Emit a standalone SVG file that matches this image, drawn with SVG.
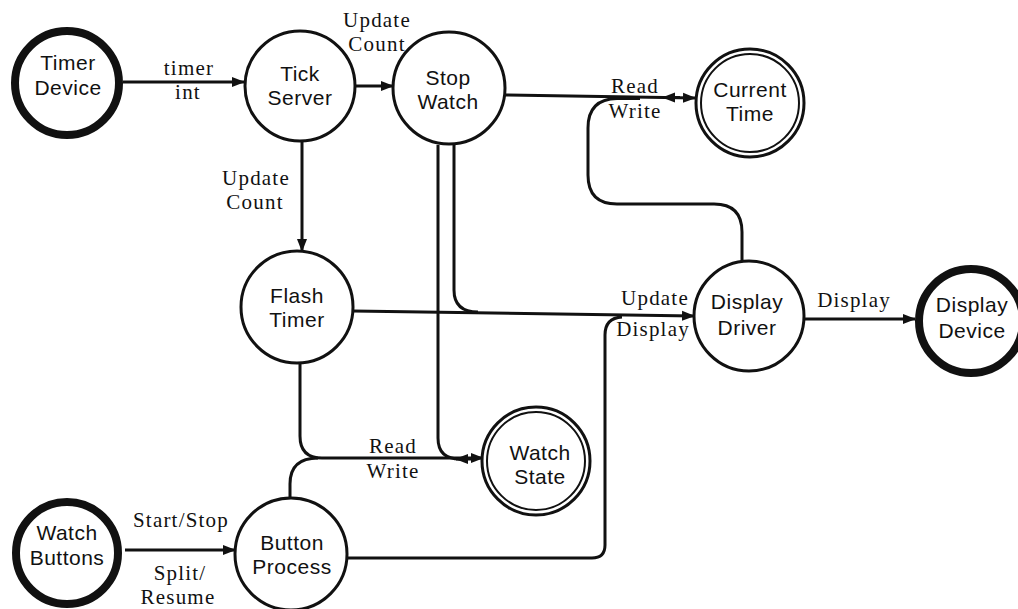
<svg xmlns="http://www.w3.org/2000/svg" width="1018" height="609" viewBox="0 0 1018 609">
  <style>
    .node { fill: #fff; stroke: #111; stroke-width: 3; }
    .term { fill: #fff; stroke: #111; stroke-width: 8; }
    .store-o { fill: #fff; stroke: #111; stroke-width: 3; }
    .store-i { fill: none; stroke: #111; stroke-width: 2; }
    .ntext { font-family: "Liberation Sans", Arial, sans-serif; font-size: 21px; fill: #111; text-anchor: middle; letter-spacing: 0.5px; }
    .ltext { font-family: "Liberation Serif", "Times New Roman", serif; font-size: 21px; fill: #111; text-anchor: middle; letter-spacing: 1.2px; }
    .flow { fill: none; stroke: #111; stroke-width: 3; }
    .arr { marker-end: url(#head); }
  </style>
  <defs>
    <marker id="head" markerUnits="userSpaceOnUse" markerWidth="14" markerHeight="12" viewBox="0 0 14 12" refX="12" refY="6" orient="auto">
      <path d="M0,1 L13,6 L0,11 Z" fill="#111"/>
    </marker>
  </defs>

  <rect width="1018" height="609" fill="#fff"/>

  <!-- data flows -->
  <g id="connectors">
    <path class="flow arr" d="M123,82 H244"/>
    <path class="flow arr" d="M356,86 H393"/>
    <path class="flow arr" d="M302,141 V251"/>
    <!-- Stop Watch / Display Driver read-write on Current Time -->
    <path class="flow arr" d="M505,95 L695,98"/>
    <path class="flow arr" d="M680,97.5 H663"/>
    <path class="flow" d="M742,261 V232 Q742,204 714,204 H617 Q588,204 588,175 V128 Q588,99 617,98.5 H640"/>
    <!-- Update Display -->
    <path class="flow arr" d="M353,311 L694,316"/>
    <path class="flow" d="M454,145 V290 Q454,312 478,312"/>
    <path class="flow" d="M347,558 H592 Q605,558 605,545 V335 Q605,318 622,317"/>
    <!-- read-write on Watch State -->
    <path class="flow" d="M438,145 V438 Q438,459 460,459"/>
    <path class="flow arr" d="M300,363 V436 Q300,458 322,458 H483"/>
    <path class="flow arr" d="M472,459 H456"/>
    <path class="flow" d="M290,499 V484 Q290,458 318,458"/>
    <!-- outputs / inputs -->
    <path class="flow arr" d="M805,319 H915"/>
    <path class="flow arr" d="M125,550 H235"/>
  </g>

  <g id="labels">
    <text class="ltext" x="189" y="75">timer</text>
    <text class="ltext" x="188" y="99">int</text>
    <text class="ltext" x="377" y="27">Update</text>
    <text class="ltext" x="377" y="51">Count</text>
    <text class="ltext" x="256" y="185">Update</text>
    <text class="ltext" x="255" y="209">Count</text>
    <text class="ltext" x="635" y="93">Read</text>
    <text class="ltext" x="635" y="118">Write</text>
    <text class="ltext" x="655" y="305">Update</text>
    <text class="ltext" x="653" y="336">Display</text>
    <text class="ltext" x="854" y="307">Display</text>
    <text class="ltext" x="393" y="453">Read</text>
    <text class="ltext" x="393" y="478">Write</text>
    <text class="ltext" x="181" y="527">Start/Stop</text>
    <text class="ltext" x="180" y="580">Split/</text>
    <text class="ltext" x="178" y="604">Resume</text>
  </g>

  <g id="timer-device">
    <circle class="term" cx="67" cy="83" r="52"/>
    <text class="ntext" x="68" y="70">Timer</text>
    <text class="ntext" x="68" y="95">Device</text>
  </g>
  <g id="tick-server">
    <circle class="node" cx="300" cy="86" r="55"/>
    <text class="ntext" x="300" y="81">Tick</text>
    <text class="ntext" x="300" y="105">Server</text>
  </g>
  <g id="stop-watch">
    <circle class="node" cx="449" cy="88" r="56"/>
    <text class="ntext" x="448" y="85">Stop</text>
    <text class="ntext" x="448" y="109">Watch</text>
  </g>
  <g id="current-time">
    <circle class="store-o" cx="750" cy="103" r="54"/>
    <circle class="store-i" cx="750" cy="103" r="49"/>
    <text class="ntext" x="750" y="97">Current</text>
    <text class="ntext" x="750" y="121">Time</text>
  </g>
  <g id="flash-timer">
    <circle class="node" cx="297" cy="307" r="56"/>
    <text class="ntext" x="297" y="303">Flash</text>
    <text class="ntext" x="297" y="327">Timer</text>
  </g>
  <g id="display-driver">
    <circle class="node" cx="749" cy="316" r="55"/>
    <text class="ntext" x="747" y="309">Display</text>
    <text class="ntext" x="747" y="335">Driver</text>
  </g>
  <g id="display-device">
    <circle class="term" cx="971" cy="321" r="52"/>
    <text class="ntext" x="972" y="312">Display</text>
    <text class="ntext" x="972" y="338">Device</text>
  </g>
  <g id="watch-state">
    <circle class="store-o" cx="536" cy="461" r="54"/>
    <circle class="store-i" cx="536" cy="461" r="49"/>
    <text class="ntext" x="540" y="460">Watch</text>
    <text class="ntext" x="540" y="484">State</text>
  </g>
  <g id="button-process">
    <circle class="node" cx="291" cy="554" r="56"/>
    <text class="ntext" x="292" y="550">Button</text>
    <text class="ntext" x="292" y="574">Process</text>
  </g>
  <g id="watch-buttons">
    <circle class="term" cx="67" cy="553" r="51"/>
    <text class="ntext" x="67" y="540">Watch</text>
    <text class="ntext" x="67" y="565">Buttons</text>
  </g>
</svg>
